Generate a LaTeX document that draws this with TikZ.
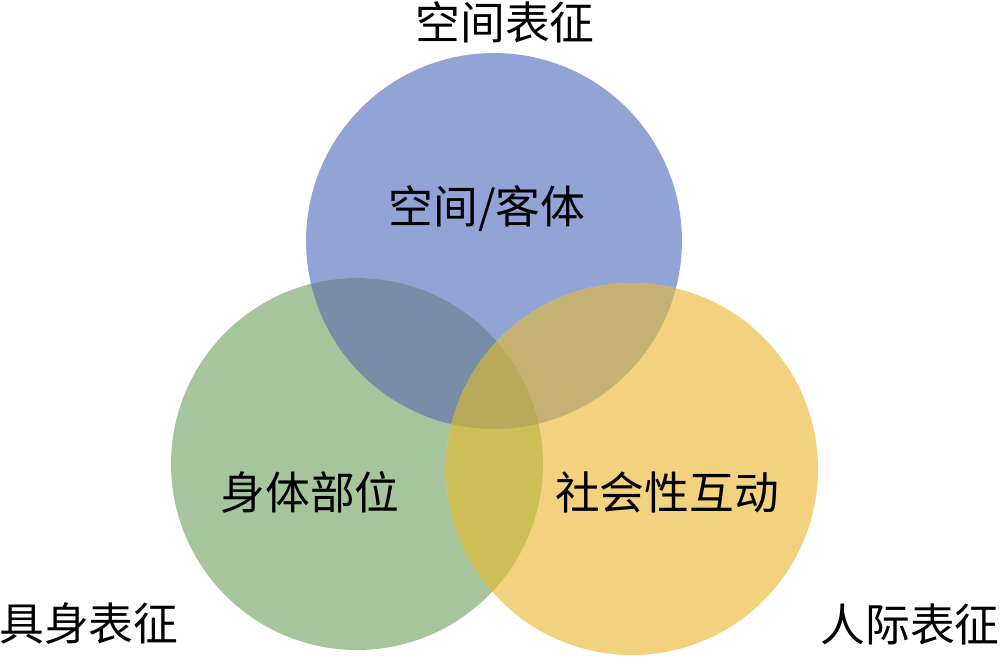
\documentclass[tikz,border=0pt]{standalone}
\usepackage{fontspec}
\setmainfont{Noto Sans CJK SC}
\definecolor{cB}{RGB}{146,164,214}
\definecolor{cG}{RGB}{166,197,156}
\definecolor{cY}{RGB}{242,210,126}
\definecolor{cBG}{RGB}{120,142,168}
\definecolor{cBY}{RGB}{197,178,114}
\definecolor{cGY}{RGB}{205,190,86}
\definecolor{cBGY}{RGB}{185,169,91}
\tikzset{
  lbl/.style={inner sep=0pt, font=\fontsize{25.5}{30}\selectfont, text=black},
  inlbl/.style={inner sep=0pt, font=\fontsize{25.5}{30}\selectfont, text=black}
}
\begin{document}
\begin{tikzpicture}[x=0.02cm,y=-0.02cm]
\useasboundingbox (0,0) rectangle (1000,656);
\def\cBpath{(494,241) circle[radius=3.76cm]}
\def\cGpath{(357,464) circle[radius=3.72cm]}
\def\cYpath{(632,469) circle[radius=3.72cm]}
% single circles
\fill[cB] \cBpath;
\fill[cG] \cGpath;
\fill[cY] \cYpath;
% pairwise overlaps
\begin{scope}
  \clip \cBpath;
  \fill[cBG] \cGpath;
  \fill[cBY] \cYpath;
\end{scope}
\begin{scope}
  \clip \cGpath;
  \fill[cGY] \cYpath;
\end{scope}
% triple overlap
\begin{scope}
  \clip \cBpath;
  \clip \cGpath;
  \fill[cBGY] \cYpath;
\end{scope}
% labels
\node[lbl] (top) at (505,22) {空间表征};
\node[lbl] (bl) at (89,624) {具身表征};
\node[lbl] (br) at (910,624) {人际表征};
\node[inlbl] (sp) at (487,208) {空间/客体};
\node[inlbl] (bd) at (310,492) {身体部位};
\node[inlbl] (so) at (667,492) {社会性互动};
\end{tikzpicture}
\end{document}
